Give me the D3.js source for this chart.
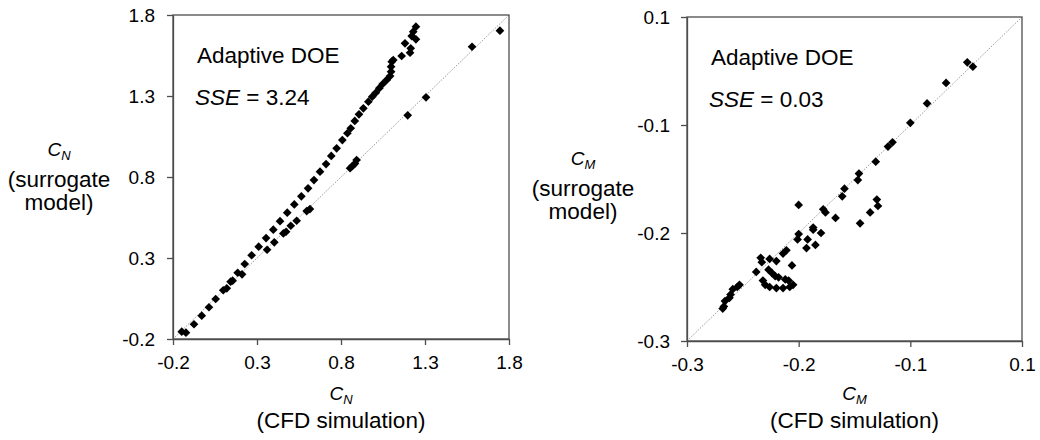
<!DOCTYPE html>
<html>
<head>
<meta charset="utf-8">
<script src="https://cdn.jsdelivr.net/npm/d3@7"></script>
<style>
    body { margin: 0; background: #fff; }
    svg { font-family: "Liberation Sans", Arial, sans-serif; }
</style>
</head>
<body>
<div id="chart"></div>
<script>
// C_N : CFD simulation vs surrogate model
const cnSimulation = [-0.148, -0.123, -0.075, -0.029, 0.014, 0.054, 0.099, 0.120, 0.143, 0.155, 0.185, 0.227, 0.268, 0.310, 0.354, 0.397, 0.437, 0.480, 0.522, 0.564, 0.604, 0.639, 0.675, 0.711, 0.742, 0.774, 0.808, 0.838, 0.858, 0.882, 0.907, 0.933, 0.963, 0.986, 1.007, 1.028, 1.048, 1.072, 1.092, 1.098, 1.098, 1.102, 1.111, 1.161, 1.211, 1.215, 1.181, 1.246, 1.221, 1.230, 1.246,
    0.211, 0.360, 0.403, 0.457, 0.473, 0.501, 0.536, 0.596, 0.615, 0.854, 0.868, 0.883, 0.893, 1.197, 1.306, 1.580, 1.746]
const cnSurrogate = [-0.155, -0.161, -0.109, -0.056, -0.004, 0.047, 0.101, 0.113, 0.154, 0.160, 0.209, 0.263, 0.317, 0.370, 0.423, 0.475, 0.527, 0.580, 0.631, 0.681, 0.730, 0.781, 0.833, 0.880, 0.930, 0.977, 1.028, 1.070, 1.101, 1.146, 1.187, 1.224, 1.265, 1.296, 1.320, 1.348, 1.374, 1.399, 1.423, 1.450, 1.481, 1.512, 1.522, 1.547, 1.567, 1.594, 1.625, 1.650, 1.670, 1.697, 1.728,
    0.199, 0.351, 0.397, 0.452, 0.462, 0.499, 0.530, 0.590, 0.602, 0.854, 0.868, 0.883, 0.905, 1.181, 1.292, 1.604, 1.703]
const cnTicks = [-0.2, 0.3, 0.8, 1.3, 1.8]
const cnTickLabels = ['-0.2', '0.3', '0.8', '1.3', '1.8']

// C_M : CFD simulation vs surrogate model
const cmSimulation = [-0.044, -0.049, -0.068, -0.085, -0.100, -0.116, -0.120, -0.131, -0.146, -0.147, -0.159, -0.161, -0.130, -0.129, -0.136, -0.145, -0.200, -0.178, -0.176, -0.167, -0.187, -0.187, -0.180, -0.200, -0.201, -0.192, -0.185, -0.193,
    -0.211, -0.214, -0.206, -0.220, -0.226, -0.234, -0.233, -0.238, -0.227, -0.224, -0.221, -0.218, -0.212, -0.209, -0.232, -0.230, -0.226, -0.220, -0.214, -0.208, -0.205, -0.253, -0.255, -0.259, -0.261, -0.262, -0.266, -0.267, -0.268]
const cmSurrogate = [-0.046, -0.042, -0.061, -0.080, -0.098, -0.116, -0.120, -0.134, -0.145, -0.151, -0.159, -0.166, -0.169, -0.175, -0.181, -0.191, -0.174, -0.178, -0.181, -0.186, -0.195, -0.197, -0.200, -0.201, -0.206, -0.206, -0.211, -0.214,
    -0.216, -0.219, -0.230, -0.226, -0.224, -0.223, -0.227, -0.236, -0.234, -0.237, -0.240, -0.241, -0.243, -0.244, -0.244, -0.248, -0.250, -0.251, -0.251, -0.250, -0.248, -0.248, -0.250, -0.252, -0.257, -0.260, -0.263, -0.268, -0.270]
const cmTicks = [-0.3, -0.2, -0.1, 0.0]
const cmTickLabels = ['-0.3', '-0.2', '-0.1', '0.1']

const width = 1040, height = 440

const svg = d3.select('#chart').append('svg')
    .attr('width', width)
    .attr('height', height)

// excel-like diamond: a square turned by 45 degrees
const diamond = d3.symbol().type(d3.symbolSquare).size(38)

function drawPanel(p) {
    const x = d3.scaleLinear().domain(p.domain).range([p.left, p.right])
    const y = d3.scaleLinear().domain(p.domain).range([p.bottom, p.top])
    const g = svg.append('g')

    // y = x reference line
    g.append('line')
        .attr('x1', x(p.domain[0])).attr('y1', y(p.domain[0]))
        .attr('x2', x(p.domain[1])).attr('y2', y(p.domain[1]))
        .attr('stroke', '#999')
        .attr('stroke-width', 1)
        .attr('stroke-dasharray', '1.5,1.5')

    // plot frame
    g.append('rect')
        .attr('x', p.left).attr('y', p.top)
        .attr('width', p.right - p.left).attr('height', p.bottom - p.top)
        .attr('fill', 'none')
        .attr('stroke', '#4d4d4d')
        .attr('stroke-width', 1.3)

    const xAxis = g.append('g')
        .attr('transform', `translate(0,${p.bottom})`)
        .call(d3.axisBottom(x).tickValues(p.ticks).tickFormat((d, i) => p.labels[i]).tickSize(6).tickPadding(11).tickSizeOuter(0))
    const yAxis = g.append('g')
        .attr('transform', `translate(${p.left},0)`)
        .call(d3.axisLeft(y).tickValues(p.ticks).tickFormat((d, i) => p.labels[i]).tickSize(6).tickPadding(p.yPad).tickSizeOuter(0))
    ;[xAxis, yAxis].forEach(a => {
        a.select('.domain').attr('stroke', '#4d4d4d').attr('stroke-width', 1.3)
        a.selectAll('.tick line').attr('stroke', '#4d4d4d').attr('stroke-width', 1.3)
        a.selectAll('.tick text').attr('fill', '#000').style('font-size', '19px').style('font-family', '"Liberation Sans", Arial, sans-serif')
    })

    // points
    g.selectAll('path.pt')
        .data(p.xs.map((v, i) => [v, p.ys[i]]))
        .join('path')
        .attr('class', 'pt')
        .attr('d', diamond)
        .attr('transform', d => `translate(${x(d[0])},${y(d[1])}) rotate(45)`)
        .attr('fill', '#000')

    // annotations
    g.append('text')
        .attr('x', p.left + 24).attr('y', p.top + 48)
        .style('font-size', '22.5px')
        .text('Adaptive DOE')
    const sse = g.append('text')
        .attr('x', p.left + 22).attr('y', p.top + 90)
        .style('font-size', '22.5px')
    sse.append('tspan').style('font-style', 'italic').text('SSE')
    sse.append('tspan').text(' = ' + p.sse)

    // x title
    const cx = (p.left + p.right) / 2
    const xt = g.append('text').attr('x', cx).attr('y', 400).attr('text-anchor', 'middle')
    xt.append('tspan').style('font-style', 'italic').style('font-size', '19px').text('C')
    xt.append('tspan').style('font-style', 'italic').style('font-size', '13px').attr('dy', 4).text(p.sub)
    g.append('text').attr('x', cx).attr('y', 428).attr('text-anchor', 'middle')
        .style('font-size', '22.5px').text('(CFD simulation)')

    // y title
    const yt = g.append('text').attr('x', p.yTitleX).attr('y', p.yTitleY).attr('text-anchor', 'middle')
    yt.append('tspan').style('font-style', 'italic').style('font-size', '19px').text('C')
    yt.append('tspan').style('font-style', 'italic').style('font-size', '13px').attr('dy', 4).text(p.sub)
    g.append('text').attr('x', p.yTitleX).attr('y', p.yTitleY + 31).attr('text-anchor', 'middle')
        .style('font-size', '22.5px').text('(surrogate')
    g.append('text').attr('x', p.yTitleX).attr('y', p.yTitleY + 54).attr('text-anchor', 'middle')
        .style('font-size', '22.5px').text('model)')
}

drawPanel({
    xs: cnSimulation, ys: cnSurrogate, domain: [-0.2, 1.8],
    ticks: cnTicks, labels: cnTickLabels, sub: 'N', sse: '3.24',
    left: 173, right: 509, top: 15, bottom: 339, yPad: 12,
    yTitleX: 59, yTitleY: 156
})

drawPanel({
    xs: cmSimulation, ys: cmSurrogate, domain: [-0.3, 0.0],
    ticks: cmTicks, labels: cmTickLabels, sub: 'M', sse: '0.03',
    left: 687, right: 1022, top: 17, bottom: 341, yPad: 11,
    yTitleX: 583, yTitleY: 165
})
</script>
</body>
</html>
